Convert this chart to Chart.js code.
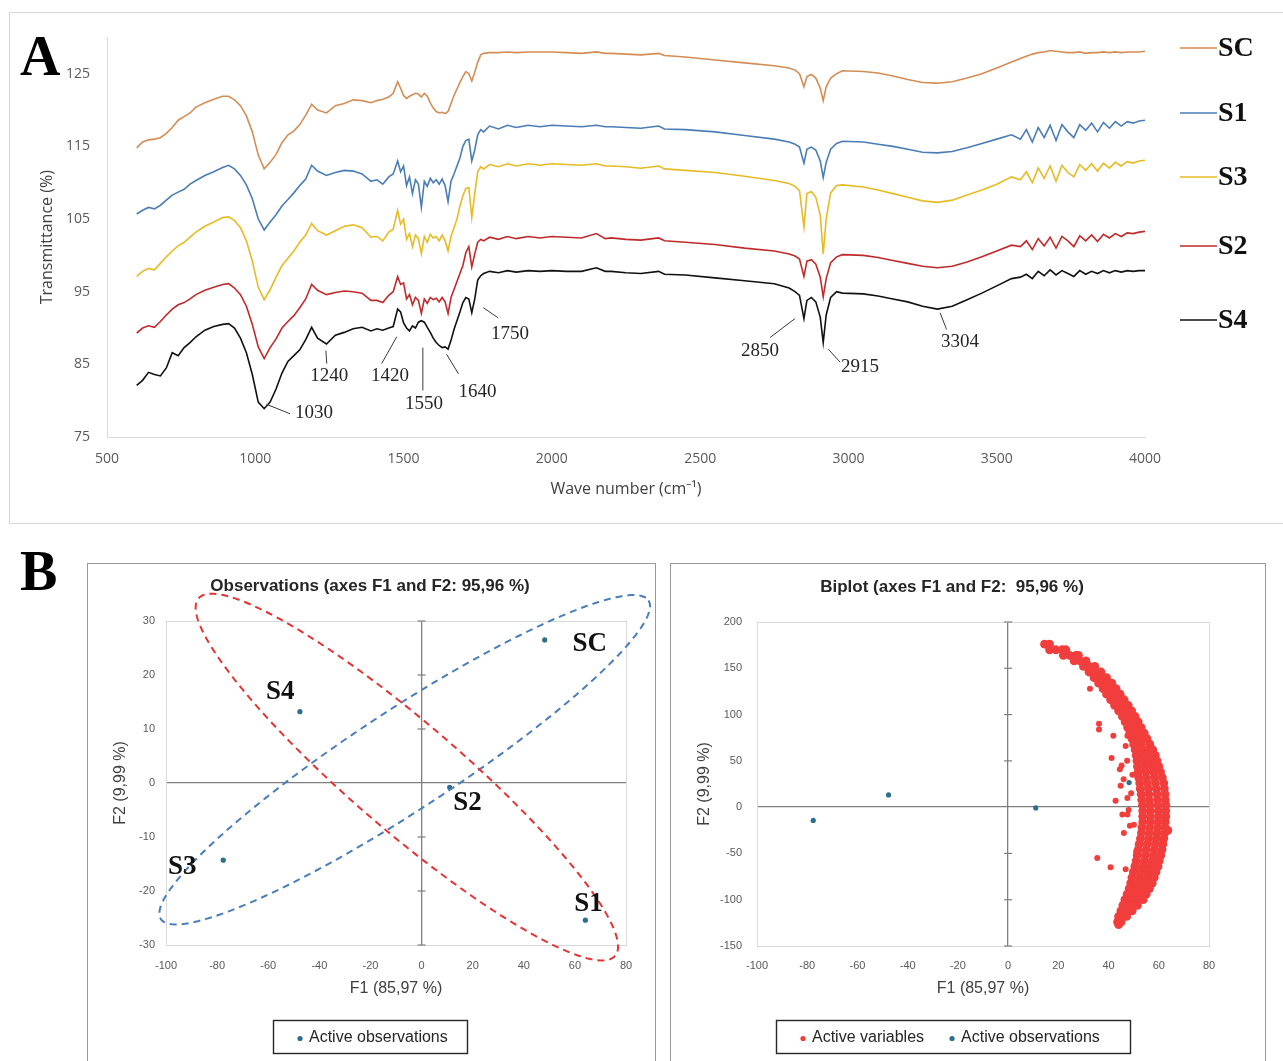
<!DOCTYPE html>
<html>
<head>
<meta charset="utf-8">
<script src="https://cdn.jsdelivr.net/npm/chart.js@4.4.0/dist/chart.umd.min.js"></script>
<style>
  body { margin: 0; background: #fff; }
  #page { position: relative; width: 1283px; height: 1061px; overflow: hidden; background: #fff; }
  .panel { position: absolute; box-sizing: border-box; }
  .letter { position: absolute; font-family: "Liberation Serif", "Times New Roman", serif; font-weight: bold; font-size: 56px; line-height: 56px; color: #000; }
  canvas { position: absolute; }
</style>
</head>
<body>
<div id="page">
  <div class="panel" style="left:9px;top:12px;width:1290px;height:512px;border:1px solid #d6d6d6;"></div>
  <div class="panel" style="left:87px;top:563px;width:569px;height:520px;border:1px solid #9a9a9a;"></div>
  <div class="panel" style="left:670px;top:563px;width:596px;height:520px;border:1px solid #9a9a9a;"></div>
  <div class="letter" style="left:20px;top:28px;">A</div>
  <div class="letter" style="left:20px;top:543px;">B</div>
  <canvas id="ftir" width="1274" height="511" style="left:9px;top:12px;"></canvas>
  <canvas id="obs" width="568" height="498" style="left:87px;top:563px;"></canvas>
  <canvas id="biplot" width="595" height="498" style="left:670px;top:563px;"></canvas>
</div>
<script>
// ---------- panel A : FTIR spectra ----------
const waveNumbers = [
  600, 620, 640, 660, 680, 700, 720, 740, 760, 780, 800,
  830, 860, 890,
  910, 930, 950, 970, 990, 1010, 1030,
  1050, 1070, 1090, 1110, 1130, 1150, 1170, 1190, 1210,
  1240, 1270, 1300, 1330, 1360, 1390,
  1410, 1430, 1450, 1465,
  1480, 1490, 1500, 1510, 1520, 1530, 1540, 1550, 1560, 1570, 1580, 1590, 1600, 1610, 1620,
  1630, 1640, 1650, 1660, 1670, 1680, 1690, 1700, 1710, 1720, 1730, 1740, 1750, 1760, 1770,
  1790, 1820, 1850, 1880,
  1920, 1960, 2000, 2050, 2100, 2150, 2180, 2200, 2250, 2300, 2360, 2380, 2450, 2550, 2650, 2750, 2800,
  2820, 2835, 2850, 2860, 2875, 2890, 2905, 2915, 2925, 2940, 2960, 2980,
  3050, 3100, 3150, 3200, 3250, 3300, 3350, 3400, 3450, 3500, 3550,
  3580, 3600, 3620, 3640, 3660, 3680, 3700, 3720, 3740, 3760, 3780, 3800, 3820, 3840, 3860, 3880, 3900, 3920, 3940, 3960, 3980, 4000
];

const scT = [
  114.8, 115.6, 115.9, 116.0, 116.2, 116.8, 117.6, 118.6, 119.1, 119.6, 120.4,
  121.0, 121.5, 121.9,
  121.9, 121.4, 120.6, 119.2, 117.0, 113.8, 111.9,
  112.8, 113.9, 115.5, 116.6, 117.1, 118.0, 119.3, 120.8, 120.0,
  119.6, 120.6, 120.9, 121.4, 121.3, 121.0,
  121.3, 121.5, 121.8, 122.3,
  123.9, 123.0, 122.0, 121.6, 121.9, 122.1, 122.3, 122.2, 121.8, 122.3, 121.9, 121.0, 120.3, 119.8, 119.6,
  119.7, 119.5, 119.8, 120.9, 122.0, 122.9, 123.8, 124.6, 125.3, 125.0, 124.0, 125.2, 126.6, 127.6, 127.8,
  127.9, 127.9, 128.0, 127.9,
  128.0, 128.0, 128.0, 127.9, 127.8, 128.0, 127.8, 127.8, 127.7, 127.6, 127.8, 127.5, 127.3, 126.9, 126.5, 126.1, 125.8,
  125.5, 125.0, 123.2, 124.6, 124.9, 124.4, 123.0, 121.3, 123.2, 124.4, 125.0, 125.4,
  125.3, 125.1, 124.7, 124.2, 123.8, 123.7, 123.9, 124.4, 125.0, 125.8, 126.6,
  127.1, 127.4, 127.7, 127.9, 128.0, 128.2, 128.1, 128.0, 127.9, 127.9, 128.0, 127.8, 127.9, 127.9, 128.0, 127.9, 128.0, 127.9, 128.0, 128.0, 128.0, 128.1
];

const s1T = [
  105.7, 106.2, 106.6, 106.4, 106.9, 107.6, 108.3, 108.7, 109.1, 109.8, 110.3,
  111.0, 111.5, 112.1,
  112.4, 111.9, 111.0, 109.7, 107.8, 105.0, 103.5,
  104.6, 105.6, 106.8, 107.7, 108.6, 109.6, 110.5, 112.4, 111.6,
  111.0, 111.4, 111.7, 111.6, 111.2, 110.2,
  110.4, 109.8, 110.8, 111.2,
  113.0, 111.5, 112.3, 109.6, 110.8, 108.5, 110.4, 109.8, 106.6, 110.2, 109.5, 110.6, 110.0, 110.4, 109.8,
  110.5, 109.6, 107.4, 110.2, 111.2, 112.3, 113.4, 115.0, 115.8, 116.0, 113.0, 114.5, 116.6, 117.3, 117.0,
  117.8, 117.4, 117.9, 117.6,
  117.9, 117.7, 117.9, 117.8, 117.7, 117.9, 117.7, 117.7, 117.6, 117.5, 117.8, 117.4, 117.3, 117.0, 116.5, 116.0, 115.6,
  115.3, 114.9, 112.7, 114.6, 114.9, 114.5, 113.0, 110.7, 112.8, 114.6, 115.4, 115.7,
  115.6, 115.3, 115.0, 114.6, 114.2, 114.1, 114.3, 114.8, 115.4, 116.0, 116.6,
  116.0, 117.3, 115.6, 117.6, 116.2, 117.9, 115.8, 118.0, 117.0, 116.2, 118.0, 117.2, 118.2, 117.0, 118.3, 117.5, 118.4, 117.8, 118.4, 118.2, 118.5, 118.6
];

const s3T = [
  97.1, 97.8, 98.2, 98.0, 98.9, 99.8, 100.6, 101.3, 101.8, 102.5, 103.2,
  104.0, 104.6, 105.2,
  105.3, 104.8, 103.8, 102.0, 99.2, 95.6, 93.9,
  95.3, 97.0, 98.6, 99.6, 100.6, 101.8, 102.8, 104.4, 103.4,
  102.8, 103.4, 104.0, 104.2, 103.8, 102.5,
  102.6, 102.0, 103.2, 103.6,
  106.2, 104.3, 105.0, 102.2, 103.0, 101.2, 102.8, 102.3, 100.2, 102.6, 101.8, 102.9, 102.4, 102.6, 102.0,
  102.8, 102.0, 100.6, 102.6, 103.8, 105.0, 106.8, 108.2, 109.2, 109.3, 105.2, 108.5, 111.5, 112.2, 111.9,
  112.5, 112.2, 112.6, 112.3,
  112.6, 112.4, 112.6, 112.5, 112.4, 112.6, 112.3, 112.3, 112.2, 112.0, 112.3, 111.9, 111.7, 111.4, 110.9, 110.3, 109.9,
  109.5, 108.9, 103.9, 108.5, 108.8, 108.0, 105.5, 100.2, 105.0, 108.6, 109.6, 109.7,
  109.4, 109.0, 108.5, 108.0, 107.5, 107.3, 107.6, 108.3, 109.0, 109.8, 110.8,
  110.4, 111.5, 110.0, 112.0, 110.6, 112.3, 110.2, 112.4, 111.4, 110.8, 112.5, 111.7, 112.6, 111.6, 112.7, 112.0, 112.8, 112.3, 112.9, 112.7, 113.0, 113.1
];

const s2T = [
  89.3, 90.0, 90.3, 90.1, 90.9, 91.8, 92.6, 93.2, 93.5, 94.0, 94.6,
  95.2, 95.6, 96.0,
  96.1, 95.5, 94.6, 93.0, 90.5, 87.4, 85.8,
  87.3, 88.5, 90.0, 90.9, 91.7, 92.8, 94.0, 96.0, 95.2,
  94.6, 94.9, 95.1, 95.0, 94.8, 93.8,
  93.8, 93.5, 94.5, 95.0,
  97.1, 96.0, 96.2, 94.0, 94.6, 93.2, 94.2, 93.8, 92.0, 94.0, 93.4, 94.2, 93.9, 94.1, 93.6,
  94.2, 93.6, 92.0, 94.2, 95.3, 96.4, 97.5, 98.6, 100.4, 101.2, 98.4, 100.2, 101.8, 102.2, 102.0,
  102.5, 102.2, 102.6, 102.3,
  102.6, 102.4, 102.6, 102.5, 102.4, 103.0, 102.3, 102.4, 102.2, 102.1, 102.4, 102.0, 101.8, 101.5, 101.0, 100.6, 100.2,
  99.9, 99.5, 97.1, 99.2, 99.4, 98.8, 97.0, 94.3, 96.8, 99.0, 99.8, 100.1,
  100.0, 99.7, 99.3, 98.9, 98.5, 98.3, 98.5, 99.1, 99.8, 100.6, 101.4,
  101.2, 102.0, 100.8, 102.3, 101.3, 102.5, 101.0, 102.6, 102.0, 101.2, 102.7, 102.0, 102.8, 101.9, 102.9, 102.4, 103.0, 102.6, 103.1, 103.0, 103.2, 103.3
];

const s4T = [
  82.1, 82.8, 83.9, 83.6, 83.4, 84.5, 86.6, 86.2, 87.3, 88.0, 88.8,
  89.7, 90.2, 90.5,
  90.6, 90.0, 88.6, 86.6, 83.6, 79.8, 78.9,
  79.8, 81.6, 83.8, 85.4, 86.2, 87.0, 88.4, 90.1, 88.6,
  87.8, 89.0, 89.4, 89.9, 90.1, 89.6,
  89.9, 89.7, 90.0, 90.2,
  92.6, 92.2, 90.7, 90.0, 89.6, 90.3, 90.0, 90.8, 91.0, 90.8, 90.1, 89.4, 88.6, 88.0, 87.6,
  87.3, 87.4, 87.1, 88.3, 89.8, 91.0, 92.2, 93.5, 94.2, 94.0, 92.1, 94.0, 96.6, 97.2, 97.5,
  97.8, 97.6, 97.9, 97.7,
  97.9, 97.8, 97.9, 97.8, 97.8, 98.3, 97.8, 97.8, 97.6, 97.5, 97.8, 97.4, 97.3, 96.9, 96.5, 96.1, 95.5,
  95.0, 94.5, 91.3, 93.8, 94.2, 93.6, 91.5, 88.0, 91.8, 94.2, 95.0, 94.8,
  94.7, 94.4, 94.0, 93.6, 93.0, 92.6, 93.0, 93.9, 94.8, 95.8, 96.8,
  97.0, 97.4, 96.8, 97.8, 97.2, 98.0, 97.3, 97.9, 97.5, 97.1, 97.9, 97.4, 97.8, 97.5, 97.9, 97.6, 97.9, 97.7, 97.9, 97.8, 97.9, 97.9
];

const seriesNames = ['SC', 'S1', 'S3', 'S2', 'S4'];
const transTicks = [75, 85, 95, 105, 115, 125];
const peakLabels = ['1030', '1240', '1420', '1550', '1640', '1750', '2850', '2915', '3304'];

// ---------- panel B : PCA ----------
const obsNames = ['SC', 'S1', 'S2', 'S3', 'S4'];
const obsF1 = [48.2, 64.1, 11.0, -77.6, -47.6];
const obsF2 = [26.5, -25.4, -0.8, -14.3, 13.2];

// active variables (F1, F2): the dense crescent band...
const varBand = [
  [14.5, 176], [16.5, 176],
  [16.5, 170], [19, 170], [21.5, 170], [23, 170],
  [22, 164], [24.5, 164], [27, 164], [28, 164],
  [26.3, 158], [28.6, 158], [31, 158],
  [30, 152], [32.3, 152], [34.5, 152],
  [32.2, 146], [34.6, 146], [37, 146],
  [34.2, 140], [36.6, 140], [39.2, 140],
  [36, 134], [38.4, 134], [41.3, 134],
  [37.8, 128], [40.3, 128], [43, 128],
  [39.2, 122], [41.7, 122], [44.6, 122],
  [40.8, 116], [43.3, 116], [46.2, 116],
  [42.4, 110], [44.9, 110], [47.8, 110],
  [44, 104], [46.5, 104], [49.2, 104],
  [45.5, 98], [48, 98], [50.5, 98],
  [46.6, 92], [49.2, 92], [51.8, 92],
  [47.6, 86], [50.4, 86], [53, 86],
  [48.5, 80], [51.3, 80], [54.2, 80],
  [49.3, 74], [52.3, 74], [55.3, 74],
  [50, 68], [53, 68], [56.4, 68],
  [50.6, 62], [53.7, 62], [56, 62], [57.6, 62],
  [51, 56], [53.8, 56], [56.3, 56], [58.6, 56],
  [51.3, 50], [54.2, 50], [57, 50], [59.3, 50],
  [51.5, 44], [54.5, 44], [57.5, 44], [60, 44],
  [51.8, 38], [54.8, 38], [57.8, 38], [60.7, 38],
  [52, 32], [55, 32], [58.2, 32], [61.4, 32],
  [52.4, 26], [55.5, 26], [58.7, 26], [62, 26],
  [52.6, 20], [55.8, 20], [59, 20], [62.2, 20],
  [53, 14], [56, 14], [59.3, 14], [62.5, 14],
  [53.2, 8], [56.2, 8], [59.5, 8], [62.6, 8],
  [53.5, 2], [56.5, 2], [59.7, 2], [62.8, 2],
  [53.6, -4], [56.6, -4], [59.8, -4], [62.8, -4],
  [53.6, -10], [56.6, -10], [59.8, -10], [62.8, -10],
  [53.6, -16], [56.6, -16], [59.7, -16], [62.6, -16],
  [53.3, -22], [56.4, -22], [59.5, -22], [62.5, -22],
  [53.1, -28], [56.2, -28], [59.3, -28], [62.3, -28], [63.6, -25],
  [52.7, -34], [55.9, -34], [59, -34], [62, -34],
  [52.2, -40], [55.4, -40], [58.6, -40], [61.6, -40],
  [51.8, -46], [55, -46], [58.2, -46], [61.3, -46],
  [51.4, -52], [54.6, -52], [57.8, -52], [60.8, -52],
  [51, -58], [54.2, -58], [57.3, -58], [60.2, -58],
  [50.5, -64], [53.7, -64], [56.8, -64], [59.7, -64],
  [49.9, -70], [53, -70], [56.1, -70], [58.9, -70],
  [49.3, -76], [52.4, -76], [55.4, -76], [58.2, -76],
  [48.8, -82], [51.8, -82], [54.7, -82], [57.4, -82],
  [48.2, -88], [51, -88], [53.8, -88], [56.3, -88],
  [47.4, -94], [50.1, -94], [52.8, -94], [55, -94],
  [46.5, -100], [49.2, -100], [51.8, -100], [53.8, -100],
  [45.7, -106], [48.5, -106], [51.5, -106],
  [44.9, -112], [47.3, -112], [49.4, -112],
  [44, -118], [45.8, -118], [47.2, -118],
  [43.6, -124], [45, -124], [44, -127]
];
// ...and the loose ones inside it
const varScatter = [
  [32.6, 128], [36.2, 90], [36.2, 84], [41.9, 77], [41.2, 53], [44.5, 41], [45.2, 45],
  [44.8, 23], [47.4, 50], [42.8, 7], [45.5, -8], [47.5, -8], [50.1, -19], [46.1, -28],
  [35.5, -55], [40.8, -65], [46.8, -67], [51, -48], [48.5, -20], [47.5, 10], [46, 30],
  [49.5, 35], [47.5, 77], [46.8, 66], [48, -3], [49, 15]
];

// ---------- styling ----------
const fontUI = '"Open Sans", "Liberation Sans", sans-serif';
const fontPlot = '"Liberation Sans", Arial, sans-serif';
const fontSerif = '"Liberation Serif", "Times New Roman", serif';
const spectraColors = ['#d38d55', '#4a7db6', '#e6bb26', '#bf2b2b', '#111111'];
const obsColor = '#2e6f8e';
const varColor = '#f23d3d';

// where the peak leaders and numbers sit, in data units
const peakMarks = [
  {from: [1038, 79.5], to: [1117, 78.2], text: [1198, 78.3]},
  {from: [1238, 86.9], to: [1241, 85.1], text: [1249, 83.4]},
  {from: [1477, 88.8], to: [1426, 85.1], text: [1454, 83.4]},
  {from: [1565, 87.3], to: [1565, 81.4], text: [1569, 79.6]},
  {from: [1645, 86.4], to: [1685, 83.7], text: [1749, 81.2]},
  {from: [1769, 92.8], to: [1819, 91.4], text: [1859, 89.2]},
  {from: [2820, 91.3], to: [2736, 88.7], text: [2702, 86.9]},
  {from: [2932, 87.1], to: [2972, 85.3], text: [3039, 84.6]},
  {from: [3309, 92.1], to: [3331, 89.8], text: [3376, 88.1]}
];

// peak numbers + the line-and-name legend on the right
const ftirDecor = {
  id: 'ftirDecor',
  afterDatasetsDraw(chart, args, opts) {
    const {ctx} = chart;
    const xs = chart.scales.x, ys = chart.scales.y;
    ctx.save();
    ctx.strokeStyle = '#3a3a3a';
    ctx.lineWidth = 1;
    ctx.fillStyle = '#262626';
    ctx.font = '19px ' + fontSerif;
    ctx.textAlign = 'center';
    ctx.textBaseline = 'middle';
    peakMarks.forEach((m, i) => {
      ctx.beginPath();
      ctx.moveTo(xs.getPixelForValue(m.from[0]), ys.getPixelForValue(m.from[1]));
      ctx.lineTo(xs.getPixelForValue(m.to[0]), ys.getPixelForValue(m.to[1]));
      ctx.stroke();
      ctx.fillText(peakLabels[i], xs.getPixelForValue(m.text[0]), ys.getPixelForValue(m.text[1]));
    });
    ctx.font = 'bold 28px ' + fontSerif;
    ctx.textAlign = 'left';
    chart.data.datasets.forEach((ds, i) => {
      const y = opts.rows[i];
      ctx.strokeStyle = ds.borderColor;
      ctx.lineWidth = 1.6;
      ctx.beginPath();
      ctx.moveTo(opts.lineX0, y);
      ctx.lineTo(opts.lineX1, y);
      ctx.stroke();
      ctx.fillStyle = '#111';
      ctx.fillText(ds.label, opts.textX, y + 1);
    });
    ctx.restore();
  }
};

// plot-area frame and little tick marks on the vertical zero axis
const plotFrame = {
  id: 'plotFrame',
  beforeDatasetsDraw(chart) {
    const {ctx, chartArea: a} = chart;
    const xs = chart.scales.x, ys = chart.scales.y;
    ctx.save();
    ctx.strokeStyle = '#d9d9d9';
    ctx.lineWidth = 1;
    ctx.strokeRect(a.left + 0.5, a.top + 0.5, a.width, a.height);
    const x0 = xs.getPixelForValue(0);
    ctx.strokeStyle = '#7f7f7f';
    ctx.lineWidth = 1.2;
    ys.ticks.forEach(t => {
      if (t.value === 0) return;
      const py = ys.getPixelForValue(t.value);
      ctx.beginPath();
      ctx.moveTo(x0 - 4, py);
      ctx.lineTo(x0 + 4, py);
      ctx.stroke();
    });
    ctx.restore();
  }
};

const panelTitle = {
  id: 'panelTitle',
  afterDraw(chart, args, o) {
    const {ctx} = chart;
    ctx.save();
    ctx.font = 'bold 17px ' + fontPlot;
    ctx.fillStyle = '#262626';
    ctx.textAlign = 'center';
    ctx.textBaseline = 'middle';
    ctx.fillText(o.text, o.x, o.y);
    ctx.restore();
  }
};

// boxed legend like the spreadsheet one
const boxLegend = {
  id: 'boxLegend',
  afterDraw(chart, args, o) {
    const {ctx} = chart;
    ctx.save();
    ctx.strokeStyle = '#262626';
    ctx.lineWidth = 1.4;
    ctx.strokeRect(o.left + 0.5, o.top + 0.5, o.width, o.height);
    ctx.font = '16px ' + fontPlot;
    ctx.textBaseline = 'middle';
    ctx.textAlign = 'left';
    const y = o.top + o.height / 2 + 1;
    let cx = o.left + 27;
    chart.data.datasets.forEach(ds => {
      ctx.fillStyle = ds.backgroundColor;
      ctx.beginPath();
      ctx.arc(cx, y + 1, 2.6, 0, Math.PI * 2);
      ctx.fill();
      ctx.fillStyle = '#262626';
      ctx.fillText(ds.label, cx + 9, y);
      cx += 9 + ctx.measureText(ds.label).width + 28;
    });
    ctx.restore();
  }
};

// dashed group ellipses: centre plus two conjugate half-axes, in data units
const ellipsePlugin = {
  id: 'groupEllipses',
  afterDatasetsDraw(chart, args, o) {
    const {ctx} = chart;
    const xs = chart.scales.x, ys = chart.scales.y;
    ctx.save();
    ctx.lineWidth = 2;
    ctx.setLineDash([7, 5]);
    o.shapes.forEach(e => {
      ctx.strokeStyle = e.color;
      ctx.beginPath();
      for (let k = 0; k <= 180; k++) {
        const t = k / 180 * Math.PI * 2;
        const px = xs.getPixelForValue(e.c[0] + e.u[0] * Math.cos(t) + e.v[0] * Math.sin(t));
        const py = ys.getPixelForValue(e.c[1] + e.u[1] * Math.cos(t) + e.v[1] * Math.sin(t));
        if (k === 0) ctx.moveTo(px, py); else ctx.lineTo(px, py);
      }
      ctx.closePath();
      ctx.stroke();
    });
    ctx.restore();
  }
};

const obsLabels = {
  id: 'obsLabels',
  afterDatasetsDraw(chart, args, o) {
    const {ctx} = chart;
    const xs = chart.scales.x, ys = chart.scales.y;
    ctx.save();
    ctx.font = 'bold 27px ' + fontSerif;
    ctx.fillStyle = '#111';
    ctx.textAlign = 'center';
    ctx.textBaseline = 'middle';
    obsNames.forEach((n, i) => {
      ctx.fillText(n, xs.getPixelForValue(o.pos[i][0]), ys.getPixelForValue(o.pos[i][1]));
    });
    ctx.restore();
  }
};

const zeroGrid = {
  color: c => (c.tick && c.tick.value === 0) ? '#7f7f7f' : 'rgba(0,0,0,0)',
  lineWidth: 1.3,
  drawTicks: false
};
const smallTicks = (step, pad) => ({
  stepSize: step, padding: pad, color: '#595959',
  font: {family: fontPlot, size: 11},
  callback: v => String(v)
});

// ---------- chart A ----------
new Chart(document.getElementById('ftir'), {
  type: 'line',
  data: {
    datasets: [scT, s1T, s3T, s2T, s4T].map((vals, i) => ({
      label: seriesNames[i],
      data: waveNumbers.map((w, k) => ({x: w, y: vals[k]})),
      borderColor: spectraColors[i],
      borderWidth: 1.6,
      pointRadius: 0,
      tension: 0,
      fill: false
    }))
  },
  options: {
    responsive: false,
    animation: false,
    events: [],
    layout: {padding: {left: 0, right: 138, top: 21, bottom: 0}},
    plugins: {
      legend: {display: false},
      tooltip: {enabled: false},
      ftirDecor: {rows: [36, 101, 165, 234, 308], lineX0: 1171, lineX1: 1208, textX: 1209}
    },
    scales: {
      x: {
        type: 'linear', min: 500, max: 4000,
        ticks: {stepSize: 500, padding: 14, color: '#595959', font: {family: fontUI, size: 14}, maxRotation: 0, callback: v => String(v)},
        grid: {display: false, drawTicks: false},
        border: {display: true, color: '#d9d9d9'},
        title: {display: true, text: 'Wave number (cm\u207B\u00B9)', color: '#404040', font: {family: fontUI, size: 16}, padding: {top: 0, bottom: 24}},
        afterFit: s => { s.height = 86; }
      },
      y: {
        min: 75, max: 130,
        afterBuildTicks: s => { s.ticks = transTicks.map(v => ({value: v})); },
        ticks: {padding: 17, color: '#595959', font: {family: fontUI, size: 14}, callback: v => String(v)},
        grid: {display: false, drawTicks: false},
        border: {display: true, color: '#d9d9d9'},
        title: {display: true, text: 'Transmittance (%)', color: '#404040', font: {family: fontUI, size: 16}, padding: {top: 29, bottom: 0}},
        afterFit: s => { s.width = 98; }
      }
    }
  },
  plugins: [ftirDecor]
});

// ---------- chart B left : observations ----------
new Chart(document.getElementById('obs'), {
  type: 'scatter',
  data: {
    datasets: [{
      label: 'Active observations',
      data: obsF1.map((x, i) => ({x: x, y: obsF2[i]})),
      backgroundColor: obsColor,
      borderColor: obsColor,
      pointRadius: 2.6,
      pointBorderWidth: 0
    }]
  },
  options: {
    responsive: false,
    animation: false,
    events: [],
    layout: {padding: {left: 0, right: 29, top: 58, bottom: 0}},
    plugins: {
      legend: {display: false},
      tooltip: {enabled: false},
      panelTitle: {text: 'Observations (axes F1 and F2: 95,96 %)', x: 283, y: 23},
      boxLegend: {left: 186, top: 457, width: 194, height: 33},
      groupEllipses: {shapes: [
        {c: [-6.6, 4.3], u: [95.4, 29.5], v: [10.7, -7.75], color: '#4a7ebb'},
        {c: [-5.75, 1.1], u: [81.5, -33.1], v: [-13.8, -7.6], color: '#e23434'}
      ]},
      obsLabels: {pos: [[65.8, 25.7], [65.3, -22.5], [18, -3.7], [-93.6, -15.6], [-55.3, 16.9]]}
    },
    scales: {
      x: {
        min: -100, max: 80,
        ticks: smallTicks(20, 14),
        grid: zeroGrid,
        border: {display: false},
        title: {display: true, text: 'F1 (85,97 %)', color: '#404040', font: {family: fontPlot, size: 16}, padding: {top: 0, bottom: 63}},
        afterFit: s => { s.height = 116; }
      },
      y: {
        min: -30, max: 30,
        ticks: smallTicks(10, 11),
        grid: zeroGrid,
        border: {display: false},
        title: {display: true, text: 'F2 (9,99 %)', color: '#404040', font: {family: fontPlot, size: 16}, padding: {top: 24, bottom: 0}},
        afterFit: s => { s.width = 79; }
      }
    }
  },
  plugins: [plotFrame, ellipsePlugin, obsLabels, panelTitle, boxLegend]
});

// ---------- chart B right : biplot ----------
new Chart(document.getElementById('biplot'), {
  type: 'scatter',
  data: {
    datasets: [{
      label: 'Active variables',
      data: varBand.concat(varScatter).map(p => ({x: p[0], y: p[1]})),
      backgroundColor: varColor,
      borderColor: varColor,
      pointRadius: varBand.map(() => 4.4).concat(varScatter.map(() => 3)),
      pointBorderWidth: 0
    }, {
      label: 'Active observations',
      data: obsF1.map((x, i) => ({x: x, y: obsF2[i]})),
      backgroundColor: obsColor,
      borderColor: obsColor,
      pointRadius: 2.6,
      pointBorderWidth: 0
    }]
  },
  options: {
    responsive: false,
    animation: false,
    events: [],
    layout: {padding: {left: 0, right: 56, top: 59, bottom: 0}},
    plugins: {
      legend: {display: false},
      tooltip: {enabled: false},
      panelTitle: {text: 'Biplot (axes F1 and F2:  95,96 %)', x: 282, y: 24},
      boxLegend: {left: 106, top: 457, width: 354, height: 33}
    },
    scales: {
      x: {
        min: -100, max: 80,
        ticks: smallTicks(20, 13),
        grid: zeroGrid,
        border: {display: false},
        title: {display: true, text: 'F1 (85,97 %)', color: '#404040', font: {family: fontPlot, size: 16}, padding: {top: 0, bottom: 63}},
        afterFit: s => { s.height = 115; }
      },
      y: {
        min: -150, max: 200,
        ticks: smallTicks(50, 15),
        grid: zeroGrid,
        border: {display: false},
        title: {display: true, text: 'F2 (9,99 %)', color: '#404040', font: {family: fontPlot, size: 16}, padding: {top: 25, bottom: 0}},
        afterFit: s => { s.width = 87; }
      }
    }
  },
  plugins: [plotFrame, panelTitle, boxLegend]
});
</script>
</body>
</html>
